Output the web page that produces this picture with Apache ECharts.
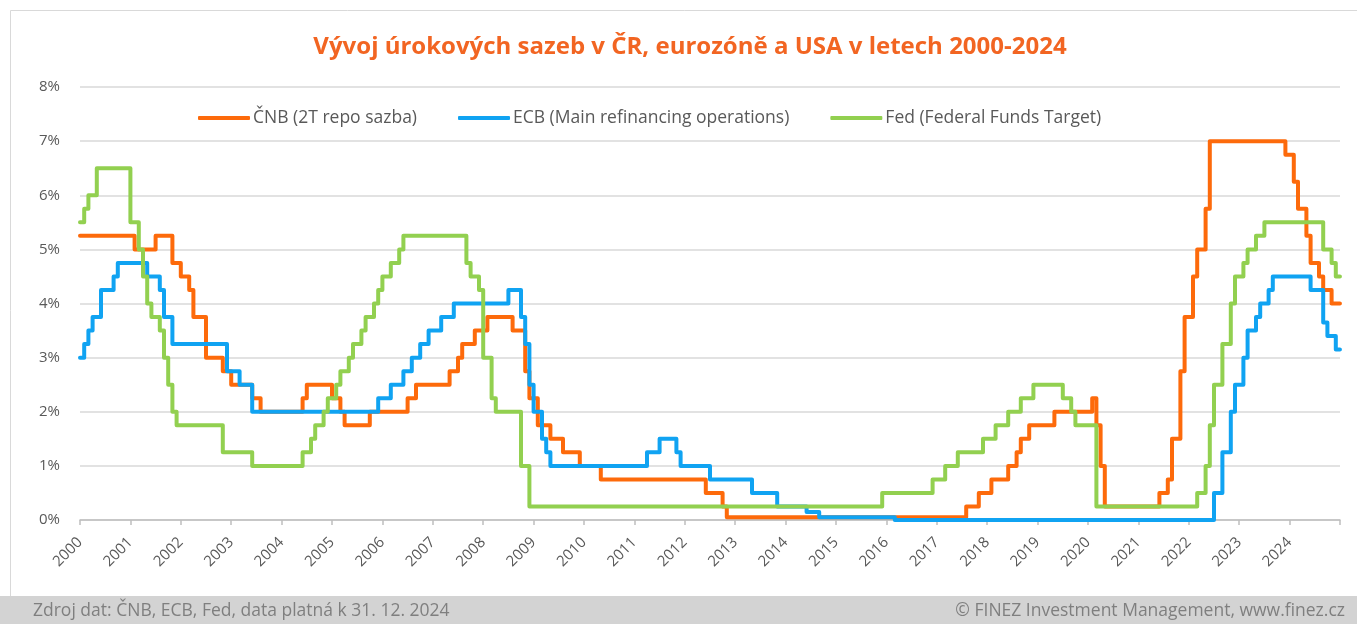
<!DOCTYPE html>
<html>
<head>
<meta charset="utf-8">
<title>Vývoj úrokových sazeb</title>
<script src="https://cdn.jsdelivr.net/npm/echarts@6/dist/echarts.min.js"></script>
<style>
    html, body { margin: 0; padding: 0; background: #fff; }
    #chart { width: 1357px; height: 624px; }
</style>
</head>
<body>
<div id="chart"></div>
<script>
    // sazby v % - [mesic zmeny, nova hodnota]
    var cnb = [
        ['2000-01', 5.25], ['2001-02', 5.00], ['2001-07', 5.25], ['2001-11', 4.75], ['2002-01', 4.50],
        ['2002-03', 4.25], ['2002-04', 3.75], ['2002-07', 3.00], ['2002-11', 2.75], ['2003-01', 2.50],
        ['2003-06', 2.25], ['2003-08', 2.00], ['2004-06', 2.25], ['2004-07', 2.50], ['2005-01', 2.25],
        ['2005-03', 2.00], ['2005-04', 1.75], ['2005-10', 2.00], ['2006-07', 2.25], ['2006-09', 2.50],
        ['2007-05', 2.75], ['2007-07', 3.00], ['2007-08', 3.25], ['2007-11', 3.50], ['2008-02', 3.75],
        ['2008-08', 3.50], ['2008-11', 2.75], ['2008-12', 2.25], ['2009-02', 1.75], ['2009-05', 1.50],
        ['2009-08', 1.25], ['2009-12', 1.00], ['2010-05', 0.75], ['2012-06', 0.50], ['2012-10', 0.25],
        ['2012-11', 0.05], ['2017-08', 0.25], ['2017-11', 0.50], ['2018-02', 0.75], ['2018-06', 1.00],
        ['2018-08', 1.25], ['2018-09', 1.50], ['2018-11', 1.75], ['2019-05', 2.00], ['2020-02', 2.25],
        ['2020-03', 1.75], ['2020-04', 1.00], ['2020-05', 0.25], ['2021-06', 0.50], ['2021-08', 0.75],
        ['2021-09', 1.50], ['2021-11', 2.75], ['2021-12', 3.75], ['2022-02', 4.50], ['2022-03', 5.00],
        ['2022-05', 5.75], ['2022-06', 7.00], ['2023-12', 6.75], ['2024-02', 6.25], ['2024-03', 5.75],
        ['2024-05', 5.25], ['2024-06', 4.75], ['2024-08', 4.50], ['2024-09', 4.25], ['2024-11', 4.00]
    ];
    var ecb = [
        ['2000-01', 3.00], ['2000-02', 3.25], ['2000-03', 3.50], ['2000-04', 3.75], ['2000-06', 4.25],
        ['2000-09', 4.50], ['2000-10', 4.75], ['2001-05', 4.50], ['2001-08', 4.25], ['2001-09', 3.75],
        ['2001-11', 3.25], ['2002-12', 2.75], ['2003-03', 2.50], ['2003-06', 2.00], ['2005-12', 2.25],
        ['2006-03', 2.50], ['2006-06', 2.75], ['2006-08', 3.00], ['2006-10', 3.25], ['2006-12', 3.50],
        ['2007-03', 3.75], ['2007-06', 4.00], ['2008-07', 4.25], ['2008-10', 3.75], ['2008-11', 3.25],
        ['2008-12', 2.50], ['2009-01', 2.00], ['2009-03', 1.50], ['2009-04', 1.25], ['2009-05', 1.00],
        ['2011-04', 1.25], ['2011-07', 1.50], ['2011-11', 1.25], ['2011-12', 1.00], ['2012-07', 0.75],
        ['2013-05', 0.50], ['2013-11', 0.25], ['2014-06', 0.15], ['2014-09', 0.05], ['2016-03', 0.00],
        ['2022-07', 0.50], ['2022-09', 1.25], ['2022-11', 2.00], ['2022-12', 2.50], ['2023-02', 3.00],
        ['2023-03', 3.50], ['2023-05', 3.75], ['2023-06', 4.00], ['2023-08', 4.25], ['2023-09', 4.50],
        ['2024-06', 4.25], ['2024-09', 3.65], ['2024-10', 3.40], ['2024-12', 3.15]
    ];
    var fed = [
        ['2000-01', 5.50], ['2000-02', 5.75], ['2000-03', 6.00], ['2000-05', 6.50], ['2001-01', 5.50],
        ['2001-03', 5.00], ['2001-04', 4.50], ['2001-05', 4.00], ['2001-06', 3.75], ['2001-08', 3.50],
        ['2001-09', 3.00], ['2001-10', 2.50], ['2001-11', 2.00], ['2001-12', 1.75], ['2002-11', 1.25],
        ['2003-06', 1.00], ['2004-06', 1.25], ['2004-08', 1.50], ['2004-09', 1.75], ['2004-11', 2.00],
        ['2004-12', 2.25], ['2005-02', 2.50], ['2005-03', 2.75], ['2005-05', 3.00], ['2005-06', 3.25],
        ['2005-08', 3.50], ['2005-09', 3.75], ['2005-11', 4.00], ['2005-12', 4.25], ['2006-01', 4.50],
        ['2006-03', 4.75], ['2006-05', 5.00], ['2006-06', 5.25], ['2007-09', 4.75], ['2007-10', 4.50],
        ['2007-12', 4.25], ['2008-01', 3.00], ['2008-03', 2.25], ['2008-04', 2.00], ['2008-10', 1.00],
        ['2008-12', 0.25], ['2015-12', 0.50], ['2016-12', 0.75], ['2017-03', 1.00], ['2017-06', 1.25],
        ['2017-12', 1.50], ['2018-03', 1.75], ['2018-06', 2.00], ['2018-09', 2.25], ['2018-12', 2.50],
        ['2019-07', 2.25], ['2019-09', 2.00], ['2019-10', 1.75], ['2020-03', 0.25], ['2022-03', 0.50],
        ['2022-05', 1.00], ['2022-06', 1.75], ['2022-07', 2.50], ['2022-09', 3.25], ['2022-11', 4.00],
        ['2022-12', 4.50], ['2023-02', 4.75], ['2023-03', 5.00], ['2023-05', 5.25], ['2023-07', 5.50],
        ['2024-09', 5.00], ['2024-11', 4.75], ['2024-12', 4.50]
    ];
    var lastDay = '2024-12-31';
    var seriesNames = ['ČNB (2T repo sazba)', 'ECB (Main refinancing operations)', 'Fed (Federal Funds Target)'];
    var seriesColors = ['#fd6a0b', '#10a3f2', '#92d050'];
    var yTicks = [0, 1, 2, 3, 4, 5, 6, 7, 8];
    var years = [2000, 2025];

    // datum -> desetinny rok
    var toYear = function (s) {
        var p = s.split('-').map(Number);
        var v = p[0] + (p[1] - 1) / 12;
        if (p.length > 2) {
            v += (p[2] - 1) / 365;
        }
        return v;
    };

    var toPoints = function (rows) {
        var pts = rows.map(function (r) { return [toYear(r[0]), r[1]]; });
        pts.push([toYear(lastDay), rows[rows.length - 1][1]]);
        return pts;
    };

    var font = '"Open Sans", "Noto Sans", sans-serif';
    var grey = '#595959';

    var myChart = echarts.init(document.getElementById('chart'));
    var option = {
        backgroundColor: '#ffffff',
        animation: false,
        textStyle: { fontFamily: font },
        graphic: [
            {
                type: 'rect', z: -10,
                shape: { x: 10.5, y: 10.5, width: 1370, height: 600 },
                style: { fill: '#ffffff', stroke: '#d9d9d9', lineWidth: 1 }
            },
            {
                type: 'rect', z: -5,
                shape: { x: 0, y: 596, width: 1357, height: 28 },
                style: { fill: '#d3d3d3' }
            },
            {
                type: 'text',
                style: {
                    text: 'Vývoj úrokových sazeb v ČR, eurozóně a USA v letech 2000-2024',
                    x: 690, y: 47, align: 'center', verticalAlign: 'middle',
                    font: 'bold 24px ' + font, fill: '#f26522'
                }
            },
            {
                type: 'text',
                style: {
                    text: 'Zdroj dat: ČNB, ECB, Fed, data platná k 31. 12. 2024',
                    x: 33, y: 611, align: 'left', verticalAlign: 'middle',
                    font: '17.5px ' + font, fill: '#7f7f7f'
                }
            },
            {
                type: 'text',
                style: {
                    text: '© FINEZ Investment Management, www.finez.cz',
                    x: 1345, y: 611, align: 'right', verticalAlign: 'middle',
                    font: '17.5px ' + font, fill: '#7f7f7f'
                }
            }
        ],
        legend: {
            left: 193,
            top: 104,
            icon: 'roundRect',
            itemWidth: 52,
            itemHeight: 4,
            itemGap: 41,
            textStyle: { color: grey, fontSize: 17.5, fontFamily: font, padding: [0, 0, 0, -2] },
            data: seriesNames
        },
        grid: { left: 80, right: 17, top: 87, bottom: 104, containLabel: false },
        xAxis: {
            type: 'value',
            min: years[0],
            max: years[1],
            interval: 1,
            axisLine: { lineStyle: { color: '#bfbfbf', width: 1.5 } },
            axisTick: { show: true, length: 5, lineStyle: { color: '#bfbfbf', width: 1.5 } },
            splitLine: { show: false },
            axisLabel: {
                rotate: 45,
                margin: 20,
                color: grey,
                fontSize: 15,
                fontFamily: font,
                formatter: function (v) { return v < years[1] ? String(v) : ''; }
            }
        },
        yAxis: {
            type: 'value',
            min: yTicks[0],
            max: yTicks[yTicks.length - 1],
            interval: 1,
            axisLine: { show: false },
            axisTick: { show: false },
            splitLine: { lineStyle: { color: '#d9d9d9', width: 1.5 } },
            axisLabel: { margin: 20, color: grey, fontSize: 15, fontFamily: font, formatter: '{value}%' }
        },
        series: [cnb, ecb, fed].map(function (rows, i) {
            return {
                name: seriesNames[i],
                type: 'line',
                step: 'end',
                showSymbol: false,
                color: seriesColors[i],
                lineStyle: { color: seriesColors[i], width: 4, cap: 'round', join: 'round' },
                data: toPoints(rows)
            };
        })
    };
    myChart.setOption(option);
</script>
</body>
</html>
